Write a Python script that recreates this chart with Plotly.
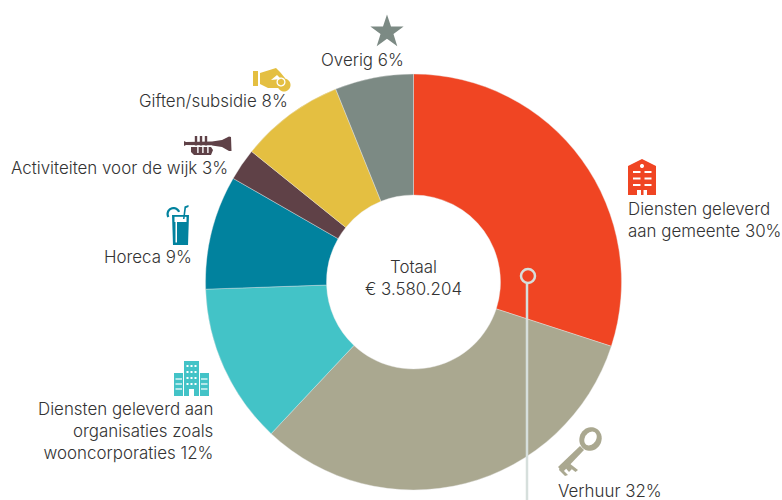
import math
import plotly.graph_objects as go

W, H = 782, 500
categories = ["Diensten geleverd aan gemeente", "Verhuur",
              "Diensten geleverd aan organisaties zoals wooncorporaties",
              "Horeca", "Activiteiten voor de wijk", "Giften/subsidie", "Overig"]
values = [30, 32, 12.45, 8.85, 2.5, 8.1, 6.1]
colors = ["#f04523", "#aaa890", "#43c3c7", "#01829e", "#5f4147", "#e4bf41", "#7c8a84"]
center_lines = ["Totaal", "€ 3.580.204"]

TXT = "#333333"
FONT = "Inter"
SIZE = 16.9
RED, TAN, TEAL, BLUE, BROWN, YEL, GRAY = colors
WHITE = "#ffffff"
RING = "#d6dfdc"

shapes = []
def px(x): return x / W
def py(y): return 1 - y / H

def poly(pts, fill, close=True, lw=0, lc=None):
    d = "M" + " L".join(f"{px(x):.5f},{py(y):.5f}" for x, y in pts) + (" Z" if close else "")
    shapes.append(dict(type="path", xref="paper", yref="paper", path=d,
                       fillcolor=fill if close else "rgba(0,0,0,0)",
                       line=dict(width=lw, color=lc or fill), layer="above"))

def ell(cx, cy, rx, ry=None, rot=0, a0=0, a1=360, n=40):
    ry = rx if ry is None else ry
    c, s = math.cos(math.radians(rot)), math.sin(math.radians(rot))
    pts = []
    for i in range(n + 1):
        t = math.radians(a0 + (a1 - a0) * i / n)
        x, y = rx * math.cos(t), ry * math.sin(t)
        pts.append((cx + x * c - y * s, cy + x * s + y * c))
    return pts

def rect(x0, y0, x1, y1, fill):
    poly([(x0, y0), (x1, y0), (x1, y1), (x0, y1)], fill)

# Star (Overig)
star = []
for i in range(10):
    r = 17.5 if i % 2 == 0 else 6.8
    a = math.radians(-90 + 36 * i)
    star.append((387 + r * math.cos(a), 32 + r * math.sin(a)))
poly(star, GRAY)

# Hand (Giften)
rect(253, 71, 258, 86, YEL)
poly([(260, 73), (276, 68), (280, 72), (285, 78), (282, 88), (268, 88), (260, 84)], YEL)
poly(ell(284, 85, 6.5), YEL)
poly(ell(281, 82, 4.5), WHITE)
poly(ell(281, 82, 3.2), YEL)
poly([(271, 80), (277, 75), (281, 79)], WHITE)

# Trumpet (Activiteiten)
poly([(184, 141), (186, 142), (212, 141.5), (222, 140), (229, 136.5), (231, 137), (231.5, 151),
      (229, 151), (222, 147), (212, 145.5), (186, 145), (184, 146)], BROWN)
poly([(191, 147), (211, 147), (213, 150), (211, 155), (194, 155), (191, 152)], BROWN)
for vx in (196, 201, 206):
    rect(vx - 1.2, 136, vx + 1.2, 154, BROWN)
    rect(vx + 1.2, 146, vx + 2.6, 153, WHITE)
rect(193, 145.5, 212, 147, WHITE)

# Glass (Horeca)
poly([(172, 215), (189, 215), (188, 245), (173, 245)], BLUE)
poly([(174.5, 222), (186.5, 222), (186.5, 216.8), (174.5, 216.8)], WHITE)
rect(175.5, 222, 177, 242.5, WHITE)
poly([(181.5, 219), (183, 219), (184.5, 206.5), (188.5, 205), (188.5, 207), (186, 208), (184.5, 219)], BLUE)
poly(ell(173.5, 214, 7, 7, 0, 150, 340) + ell(173.5, 214, 4.8, 4.8, 0, 340, 150), BLUE)

# Building (Diensten gemeente)
poly([(628, 195), (628, 166), (642, 159), (656, 166), (656, 195)], RED)
poly(ell(642, 166, 2), WHITE)
for y in (172, 178.5, 185):
    rect(633, y - 1, 640.5, y + 1, WHITE)
    rect(644.5, y - 1, 651.5, y + 1, WHITE)
rect(637, 190, 641, 195, WHITE)
rect(643.5, 190, 647, 195, WHITE)

# Key (Verhuur)
poly(ell(590.5, 439, 11, 12, 25), TAN)
poly(ell(590.5, 438.5, 5.5, 7.5, 35), WHITE)
poly([(580, 446), (584, 450), (563, 472), (558, 467)], TAN)
poly([(563, 465), (569, 472), (572, 469), (566, 462)], TAN)
poly([(569, 463), (578, 470), (575.5, 472), (566.5, 465)], TAN)
poly([(560, 467), (568, 475), (565, 476), (559, 470)], TAN)

# Office block (Diensten organisaties)
rect(174, 373, 183, 396, TEAL)
rect(200, 373, 209, 396, TEAL)
rect(184, 361, 199, 396, TEAL)
for y in (379, 384, 389):
    rect(175.5, y - .6, 182, y + .6, WHITE)
    rect(201, y - .6, 207.5, y + .6, WHITE)
for y in (366, 372, 378, 384):
    for x in (187.5, 191.5, 195.5):
        rect(x - 1, y - 1, x + 1, y + 1, WHITE)
rect(189, 389, 194, 396, WHITE)

# Callout line and ring
poly([(527, 283), (527, 500)], None, close=False, lw=2.5, lc=RING)
shapes.append(dict(type="circle", xref="paper", yref="paper", layer="above",
                   x0=px(521), x1=px(535), y0=py(283), y1=py(269),
                   fillcolor="rgba(0,0,0,0)", line=dict(width=2.5, color=RING)))

labels = [
    ("Overig 6%", 404.5, 60, "right"),
    ("Giften/subsidie 8%", 289, 101, "right"),
    ("Activiteiten voor de wijk 3%", 229, 168, "right"),
    ("Horeca 9%", 193, 257, "right"),
    ("Diensten geleverd aan<br>organisaties zoals<br>wooncorporaties 12%", 214, 430.5, "right"),
    ("Diensten geleverd<br>aan gemeente 30%", 626.5, 220, "left"),
    ("Verhuur 32%", 556.5, 491, "left"),
    ("<br>".join(center_lines), 413.5, 278, "center"),
]
ann = [dict(text=t, xref="paper", yref="paper", x=px(x), y=py(y), xanchor=a, yanchor="middle",
            align=a, showarrow=False, borderpad=0,
            font=dict(family=FONT, size=SIZE, color=TXT, weight=300))
       for t, x, y, a in labels]

CX, CY, R = 413.5, 282, 208
fig = go.Figure(go.Pie(
    labels=categories, values=values, sort=False, direction="clockwise", rotation=0,
    hole=87 / 208, marker=dict(colors=colors, line=dict(color="#e8e8e8", width=0.4)),
    textinfo="none", hoverinfo="label+percent", showlegend=False,
    domain=dict(x=[px(CX - R), px(CX + R)], y=[py(CY + R), py(CY - R)]),
))
fig.update_layout(width=W, height=H, margin=dict(l=0, r=0, t=0, b=0),
                  paper_bgcolor="white", plot_bgcolor="white", shapes=shapes, annotations=ann)
fig.write_html("out.html", config=dict(displayModeBar=False),
               post_script="document.body.style.margin='0';")
